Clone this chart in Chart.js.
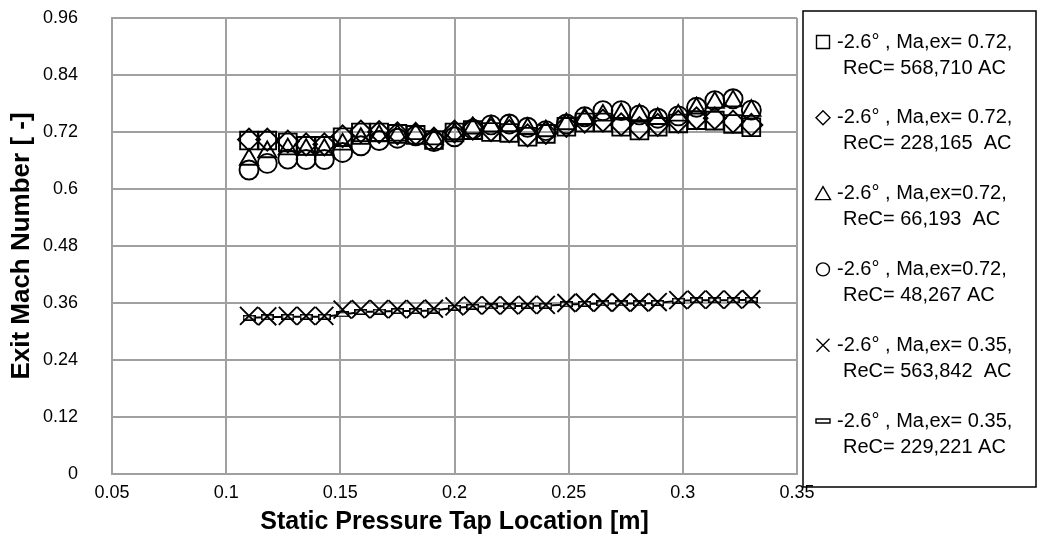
<!DOCTYPE html>
<html lang="en">
<head>
    <meta charset="UTF-8">
    <title>Exit Mach Number vs Static Pressure Tap Location</title>
    <script src="https://cdn.jsdelivr.net/npm/chart.js"></script>
    <style>
        html, body {
            margin: 0;
            padding: 0;
            background: #fff;
        }
        .chart-container {
            position: relative;
            width: 1040px;
            height: 542px;
        }
    </style>
</head>
<body>
    <div class="chart-container">
        <canvas id="machChart" width="1040" height="542"></canvas>
    </div>

    <script>
        // Static pressure tap locations [m]
        const tapLocation = [0.110, 0.118, 0.127, 0.135, 0.143, 0.151, 0.159, 0.167, 0.175, 0.183,
                             0.191, 0.200, 0.208, 0.216, 0.224, 0.232, 0.240, 0.249, 0.257, 0.265,
                             0.273, 0.281, 0.289, 0.298, 0.306, 0.314, 0.322, 0.330];

        // Exit Mach number, one list per test case
        const ma072Re568710 = [0.702, 0.702, 0.698, 0.691, 0.691, 0.709, 0.719, 0.719, 0.716, 0.714,
                               0.703, 0.719, 0.724, 0.720, 0.718, 0.710, 0.716, 0.731, 0.740, 0.740,
                               0.731, 0.723, 0.731, 0.738, 0.745, 0.744, 0.737, 0.730];
        const ma072Re228165 = [0.704, 0.704, 0.700, 0.694, 0.694, 0.711, 0.721, 0.720, 0.717, 0.716,
                               0.706, 0.721, 0.727, 0.724, 0.722, 0.713, 0.718, 0.733, 0.742, 0.744,
                               0.736, 0.728, 0.735, 0.742, 0.749, 0.749, 0.742, 0.735];
        const ma072Re66193  = [0.662, 0.678, 0.684, 0.683, 0.683, 0.694, 0.706, 0.712, 0.713, 0.716,
                               0.705, 0.716, 0.728, 0.732, 0.733, 0.727, 0.722, 0.737, 0.748, 0.755,
                               0.758, 0.756, 0.748, 0.755, 0.770, 0.782, 0.785, 0.765];
        const ma072Re48267  = [0.640, 0.654, 0.663, 0.662, 0.662, 0.677, 0.691, 0.702, 0.707, 0.712,
                               0.700, 0.710, 0.726, 0.735, 0.737, 0.730, 0.723, 0.737, 0.752, 0.765,
                               0.765, 0.756, 0.749, 0.754, 0.772, 0.786, 0.790, 0.766];
        const ma035Re563842 = [0.333, 0.332, 0.333, 0.333, 0.333, 0.346, 0.347, 0.347, 0.347, 0.347,
                               0.348, 0.353, 0.355, 0.355, 0.355, 0.356, 0.356, 0.360, 0.361, 0.361,
                               0.361, 0.361, 0.362, 0.366, 0.367, 0.367, 0.367, 0.368];
        const ma035Re229221 = [0.329, 0.330, 0.331, 0.331, 0.331, 0.336, 0.341, 0.342, 0.343, 0.343,
                               0.344, 0.350, 0.352, 0.353, 0.353, 0.354, 0.354, 0.357, 0.358, 0.359,
                               0.359, 0.359, 0.360, 0.365, 0.366, 0.366, 0.366, 0.367];

        const xTicks = [0.05, 0.1, 0.15, 0.2, 0.25, 0.3, 0.35];
        const yTicks = [0, 0.12, 0.24, 0.36, 0.48, 0.6, 0.72, 0.84, 0.96];

        const legendText = [
            ['-2.6° , Ma,ex= 0.72,', 'ReC= 568,710 AC'],
            ['-2.6° , Ma,ex= 0.72,', 'ReC= 228,165  AC'],
            ['-2.6° , Ma,ex=0.72,', 'ReC= 66,193  AC'],
            ['-2.6° , Ma,ex=0.72,', 'ReC= 48,267 AC'],
            ['-2.6° , Ma,ex= 0.35,', 'ReC= 563,842  AC'],
            ['-2.6° , Ma,ex= 0.35,', 'ReC= 229,221 AC']
        ];

        const FONT = '"Liberation Sans", Arial, sans-serif';

        // Excel style "dash" marker: small white bar with black outline
        function makeDashMarker() {
            const c = document.createElement('canvas');
            c.width = 13;
            c.height = 6;
            const g = c.getContext('2d');
            g.fillStyle = '#fff';
            g.fillRect(0, 0, 13, 6);
            g.strokeStyle = '#000';
            g.lineWidth = 1.6;
            g.strokeRect(0.8, 0.8, 11.4, 4.4);
            return c;
        }

        function toPoints(ys) {
            return tapLocation.map((x, i) => ({ x: x, y: ys[i] }));
        }

        function series(label, ys, style, radius) {
            return {
                label: label,
                data: toPoints(ys),
                pointStyle: style,
                pointRadius: radius,
                borderColor: '#000',
                backgroundColor: 'rgba(0,0,0,0)',
                pointBorderWidth: 1.9,
                showLine: false
            };
        }

        const datasets = [
            series('568,710', ma072Re568710, 'rect', 12.5),
            series('228,165', ma072Re228165, 'rectRot', 11),
            series('66,193', ma072Re66193, 'triangle', 10.5),
            series('48,267', ma072Re48267, 'circle', 9.5),
            series('563,842', ma035Re563842, 'crossRot', 12.7),
            Object.assign(series('229,221', ma035Re229221, makeDashMarker(), 6), {
                showLine: true,
                borderWidth: 2
            })
        ];

        // Boxed two-line legend drawn to the right of the plot
        const boxLegend = {
            id: 'boxLegend',
            afterDraw(chart) {
                const ctx = chart.ctx;
                const left = 803, top = 11, right = 1036, bottom = 487;
                ctx.save();
                ctx.strokeStyle = '#000';
                ctx.lineWidth = 1.5;
                ctx.strokeRect(left, top, right - left, bottom - top);

                ctx.font = '20px ' + FONT;
                ctx.fillStyle = '#000';
                ctx.textBaseline = 'middle';
                ctx.textAlign = 'left';
                ctx.lineWidth = 1.4;

                const styles = ['rect', 'rectRot', 'triangle', 'circle', 'crossRot', 'dash'];
                legendText.forEach((lines, i) => {
                    const y = 42 + i * 75.8;
                    const mx = 823;
                    ctx.beginPath();
                    switch (styles[i]) {
                        case 'rect':
                            ctx.rect(mx - 6.5, y - 6.5, 13, 13);
                            break;
                        case 'rectRot':
                            ctx.moveTo(mx - 7, y); ctx.lineTo(mx, y - 7);
                            ctx.lineTo(mx + 7, y); ctx.lineTo(mx, y + 7);
                            ctx.closePath();
                            break;
                        case 'triangle':
                            ctx.moveTo(mx, y - 7); ctx.lineTo(mx + 7.5, y + 6);
                            ctx.lineTo(mx - 7.5, y + 6);
                            ctx.closePath();
                            break;
                        case 'circle':
                            ctx.arc(mx, y, 6.5, 0, Math.PI * 2);
                            break;
                        case 'crossRot':
                            ctx.moveTo(mx - 6.5, y - 6.5); ctx.lineTo(mx + 6.5, y + 6.5);
                            ctx.moveTo(mx + 6.5, y - 6.5); ctx.lineTo(mx - 6.5, y + 6.5);
                            break;
                        case 'dash':
                            ctx.rect(mx - 7, y - 2, 14, 4);
                            break;
                    }
                    ctx.stroke();
                    ctx.fillText(lines[0], 837, y);
                    ctx.fillText(lines[1], 843, y + 26);
                });
                ctx.restore();
            }
        };

        const gridColor = '#a0a0a0';

        new Chart(document.getElementById('machChart'), {
            type: 'scatter',
            data: { datasets: datasets },
            options: {
                responsive: false,
                animation: false,
                events: [],
                layout: {
                    padding: { top: 18, right: 243, left: 0, bottom: 0 }
                },
                plugins: {
                    legend: { display: false },
                    tooltip: { enabled: false }
                },
                scales: {
                    x: {
                        type: 'linear',
                        min: 0.05,
                        max: 0.35,
                        afterBuildTicks: (scale) => {
                            scale.ticks = xTicks.map(v => ({ value: v }));
                        },
                        afterFit: (scale) => {
                            scale.height = 68;
                        },
                        ticks: {
                            callback: (v) => String(v),
                            color: '#000',
                            font: { family: FONT, size: 18 },
                            padding: 8,
                            maxRotation: 0
                        },
                        grid: { color: gridColor, lineWidth: 2, drawTicks: false },
                        border: { color: gridColor, width: 2 },
                        title: {
                            display: true,
                            text: 'Static Pressure Tap Location [m]',
                            color: '#000',
                            font: { family: FONT, size: 25, weight: 'bold' },
                            padding: { top: 0, bottom: 5 }
                        }
                    },
                    y: {
                        type: 'linear',
                        min: 0,
                        max: 0.96,
                        afterBuildTicks: (scale) => {
                            scale.ticks = yTicks.map(v => ({ value: v }));
                        },
                        afterFit: (scale) => {
                            scale.width = 112;
                        },
                        ticks: {
                            callback: (v) => String(v),
                            color: '#000',
                            font: { family: FONT, size: 18 },
                            padding: 4
                        },
                        // invisible tick marks push the labels away from the axis
                        grid: {
                            color: gridColor,
                            lineWidth: 2,
                            drawTicks: true,
                            tickLength: 30,
                            tickColor: 'rgba(0,0,0,0)'
                        },
                        border: { color: gridColor, width: 2 },
                        title: {
                            display: true,
                            text: 'Exit Mach Number [ -]',
                            color: '#000',
                            font: { family: FONT, size: 26, weight: 'bold' },
                            padding: { top: 6, bottom: 0 }
                        }
                    }
                }
            },
            plugins: [boxLegend]
        });
    </script>
</body>
</html>
